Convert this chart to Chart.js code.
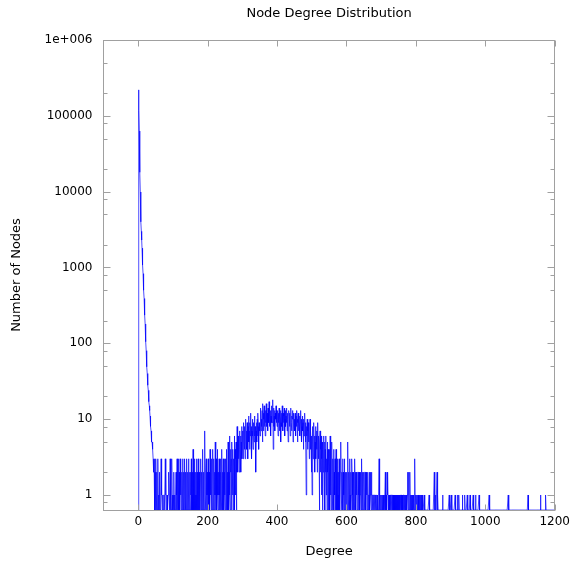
<!DOCTYPE html>
<html>
<head>
<meta charset="utf-8">
<title>Node Degree Distribution</title>
<script src="https://cdn.jsdelivr.net/npm/chart.js@4.4.1/dist/chart.umd.min.js"></script>
<style>
    html, body { margin: 0; padding: 0; background: #fff; }
    #wrap { width: 575px; height: 563px; }
</style>
</head>
<body>
<div id="wrap"><canvas id="chartGrau"></canvas></div>
<script>
/* Node degree distribution - counts per degree (index = degree) */

// degrees 0..49
const headCounts = [
    0, 220000, 118000, 63000, 34000, 18000, 9900, 5300, 4000, 3000,
    2300, 1800, 1400, 1080, 830, 640, 500, 390, 300, 235,
    180, 140, 105, 80, 62, 49, 40, 33, 28, 24,
    20, 17, 15, 13, 11, 9, 8, 7, 6, 5,
    5, 4, 4, 3, 3, 2, 2, 3, 0, 2
];

// degrees 50..299
const lowCounts = [
    0, 3, 1, 0, 2, 0, 1, 3, 0, 1,   0, 2, 1, 0, 0, 1, 3, 1, 1, 0,
    1, 1, 0, 1, 1, 1, 0, 1, 3, 1,   1, 0, 1, 1, 1, 0, 1, 1, 2, 1,
    0, 1, 3, 0, 1, 0, 0, 3, 1, 0,
    0, 1, 0, 2, 0, 1, 0, 0, 1, 2,   0, 1, 3, 0, 2, 1, 3, 0, 2, 1,
    0, 3, 1, 2, 0, 1, 2, 0, 3, 1,   0, 2, 0, 1, 3, 1, 0, 2, 0, 1,
    3, 0, 1, 2, 0, 3, 1, 0, 2, 1,
    0, 2, 1, 3, 0, 1, 2, 0, 4, 1,   0, 2, 3, 0, 1, 2, 0, 1, 3, 0,
    2, 1, 0, 3, 1, 0, 2, 1, 0, 2,   3, 0, 1, 2, 0, 1, 4, 0, 2, 1,
    0, 3, 7, 1, 0, 2, 3, 0, 1, 2,
    0, 1, 3, 0, 2, 1, 0, 4, 1, 2,   0, 3, 1, 0, 2, 4, 0, 1, 3, 0,
    2, 1, 5, 0, 1, 3, 0, 2, 4, 1,   0, 2, 1, 3, 0, 1, 2, 0, 3, 1,
    0, 4, 1, 2, 0, 3, 1, 0, 2, 3,
    1, 0, 3, 2, 0, 4, 1, 2, 0, 5,   3, 0, 2, 6, 1, 0, 4, 2, 3, 0,
    5, 2, 1, 4, 0, 3, 2, 6, 0, 4,   1, 3, 5, 0, 2, 8, 4, 2, 6, 3,
    5, 2, 7, 4, 3, 6, 2, 5, 8, 3
];

// degrees 300..549
const bumpCounts = [
    4, 7, 3, 6, 9, 5, 4, 8, 3, 6,   10, 5, 7, 4, 9, 6, 3, 8, 11, 5,
    7, 4, 9, 6, 12, 5, 8, 3, 7, 10,  6, 4, 9, 7, 5, 11, 6, 8, 4, 2,
    7, 9, 5, 10, 6, 12, 8, 4, 9, 7,
    9, 6, 11, 14, 7, 10, 8, 13, 5, 16,  12, 7, 10, 15, 8, 11, 6, 13, 9, 16,
    10, 8, 12, 7, 14, 11, 9, 17, 8, 12,  10, 13, 6, 11, 15, 9, 9, 12, 18, 4,
    14, 8, 11, 13, 7, 12, 10, 15, 9, 11,
    8, 13, 10, 6, 12, 9, 14, 7, 11, 10,  13, 5, 9, 12, 8, 15, 10, 7, 12, 9,
    11, 14, 6, 10, 13, 8, 11, 9, 14, 7,  12, 10, 5, 9, 13, 11, 8, 12, 6, 10,
    14, 9, 7, 11, 10, 13, 5, 9, 12, 8,
    10, 7, 12, 9, 6, 11, 8, 13, 10, 5,  9, 12, 7, 10, 8, 11, 6, 9, 13, 7,
    10, 5, 8, 11, 7, 9, 4, 10, 6, 8,   12, 7, 9, 5, 1, 8, 6, 10, 4, 7,
    9, 5, 8, 3, 6, 10, 4, 7, 5, 2,
    6, 1, 8, 5, 3, 7, 9, 4, 6, 2,   5, 8, 3, 6, 4, 7, 2, 9, 5, 3,
    6, 4, 0, 5, 7, 2, 4, 6, 1, 3,   5, 0, 4, 2, 6, 3, 1, 5, 0, 4,
    2, 6, 1, 3, 0, 5, 2, 4, 0, 3
];

// degrees 550..876
const fallCounts = [
    2, 4, 0, 6, 1, 3, 0, 2, 5, 1,   0, 3, 1, 4, 0, 2, 1, 3, 0, 2,
    4, 1, 0, 2, 3, 0, 1, 2, 0, 3,   1, 0, 2, 4, 5, 1, 0, 2, 1, 3,
    0, 2, 1, 0, 3, 2, 0, 1, 2, 0,
    1, 2, 0, 3, 5, 1, 0, 2, 1, 3,   0, 1, 2, 0, 1, 3, 2, 0, 1, 2,
    0, 2, 1, 0, 3, 1, 2, 0, 2, 1,   2, 0, 1, 2, 2, 0, 1, 2, 0, 1,
    2, 2, 0, 1, 3, 0, 2, 1, 0, 2,
    2, 1, 0, 2, 2, 1, 0, 2, 1, 2,   0, 1, 2, 0, 1, 1, 2, 0, 1, 2,
    1, 0, 2, 1, 1, 0, 1, 1, 0, 1,   1, 0, 1, 1, 0, 1, 0, 1, 1, 0,
    1, 0, 1, 1, 3, 0, 1, 0, 1, 1,
    0, 1, 1, 0, 1, 0, 1, 1, 0, 1,   0, 1, 2, 0, 1, 1, 0, 2, 1, 2,
    0, 1, 0, 1, 1, 0, 1, 0, 1, 1,   0, 1, 1, 0, 0, 1, 0, 1, 1, 0,
    1, 0, 0, 1, 1, 0, 1, 0, 0, 1,
    1, 0, 1, 1, 0, 1, 0, 1, 1, 0,   1, 1, 0, 1, 0, 1, 1, 0, 1, 0,
    1, 0, 1, 0, 0, 1, 2, 1, 0, 2,   1, 0, 1, 2, 0, 1, 0, 1, 0, 0,
    1, 0, 1, 0, 1, 0, 1, 3, 0, 0,
    1, 0, 1, 0, 0, 1, 0, 1, 0, 0,   1, 0, 0, 1, 0, 0, 1, 0, 1, 0,
    0, 0, 0, 0, 1, 0, 0, 0, 0, 0,   0, 0, 0, 0, 0, 0, 0, 0, 1, 0,
    0, 0, 0, 0, 0, 0, 0, 0, 0, 0,
    0, 0, 0, 2, 1, 0, 0, 1, 0, 0,   0, 2, 0, 1, 0, 0, 0, 0, 0, 0,
    0, 0, 0, 0, 0, 0, 0
];

// isolated degrees above 876 that have exactly one node
const tailDegrees = [877, 896, 902, 913, 920, 924, 934, 941, 948, 956, 965, 972, 982, 1011, 1066, 1123, 1159, 1174];

const xTicks      = [0, 200, 400, 600, 800, 1000, 1200];
const yTicks      = [1, 10, 100, 1000, 10000, 100000, 1000000];
const yTickLabels = ['1', '10', '100', '1000', '10000', '100000', '1e+006'];
const yMinorTicks = [0.8, 2, 5, 8, 20, 50, 80, 200, 500, 800, 2000, 5000, 8000,
                     20000, 50000, 80000, 200000, 500000];

const X_MIN = -100, X_MAX = 1200;
const Y_MIN = 0.634, Y_MAX = 1000000;

// zero counts go to the bottom edge, like log plots do
const counts = headCounts.concat(lowCounts, bumpCounts, fallCounts);
const pontos = [];
for (let d = 0; d <= X_MAX; d++) {
    const c = d < counts.length ? counts[d] : (tailDegrees.includes(d) ? 1 : 0);
    pontos.push({ x: d, y: c > 0 ? c : Y_MIN });
}

const AXIS_GRAY = '#a0a0a0';

// gnuplot-like frame with inward ticks on all four sides
const molduraEixos = {
    id: 'molduraEixos',
    afterDatasetsDraw(chart) {
        const { ctx, chartArea: a, scales } = chart;
        const esq  = Math.floor(a.left) + 0.5;
        const dir  = Math.floor(a.right) + 0.5;
        const topo = Math.floor(a.top) + 0.5;
        const base = Math.floor(a.bottom) + 0.5;

        ctx.save();
        ctx.strokeStyle = AXIS_GRAY;
        ctx.lineWidth = 1;
        ctx.strokeRect(esq, topo, dir - esq, base - topo);

        ctx.beginPath();
        xTicks.forEach(v => {
            const px = Math.round(scales.x.getPixelForValue(v)) + 0.5;
            ctx.moveTo(px, base); ctx.lineTo(px, base - 6);
            ctx.moveTo(px, topo); ctx.lineTo(px, topo + 6);
        });
        const marcaY = (v, len) => {
            const py = Math.round(scales.y.getPixelForValue(v)) + 0.5;
            ctx.moveTo(esq, py); ctx.lineTo(esq + len, py);
            ctx.moveTo(dir, py); ctx.lineTo(dir - len, py);
        };
        yTicks.forEach(v => marcaY(v, 7));
        yMinorTicks.forEach(v => marcaY(v, 4));
        ctx.stroke();
        ctx.restore();
    }
};

Chart.defaults.font.family = "'DejaVu Sans', sans-serif";
Chart.defaults.color = '#000';

new Chart(document.getElementById('chartGrau'), {
    type: 'line',
    data: {
        datasets: [{
            data: pontos,
            borderColor: '#0000ff',
            borderWidth: 0.7,
            pointRadius: 0,
            tension: 0,
            fill: false,
        }]
    },
    options: {
        responsive: true,
        maintainAspectRatio: false,
        animation: false,
        parsing: false,
        layout: { padding: { left: 0, right: 19, top: 0, bottom: 0 } },
        plugins: {
            legend: { display: false },
            tooltip: { enabled: false },
            title: {
                display: true,
                text: 'Node Degree Distribution',
                fullSize: false,
                font: { size: 13, weight: 'normal' },
                padding: { top: 6, bottom: 18.4 }
            }
        },
        scales: {
            x: {
                type: 'linear',
                min: X_MIN,
                max: X_MAX,
                bounds: 'data',
                grid: { display: false, drawTicks: false },
                border: { display: false },
                afterBuildTicks: s => { s.ticks = xTicks.map(v => ({ value: v })); },
                afterFit: s => { s.height = 53; },
                ticks: {
                    autoSkip: false,
                    maxRotation: 0,
                    padding: 5,
                    font: { size: 12 },
                    callback: v => String(v)
                },
                title: { display: true, text: 'Degree', font: { size: 13 }, padding: { top: 0, bottom: 4 } }
            },
            y: {
                type: 'logarithmic',
                min: Y_MIN,
                max: Y_MAX,
                bounds: 'data',
                grid: { display: false, drawTicks: false },
                border: { display: false },
                afterBuildTicks: s => { s.ticks = yTicks.map(v => ({ value: v })); },
                afterFit: s => { s.width = 103.5; },
                ticks: {
                    padding: 11,
                    font: { size: 12 },
                    callback: (v, i) => yTickLabels[i]
                },
                title: { display: true, text: 'Number of Nodes', font: { size: 13 }, padding: { top: 9, bottom: 0 } }
            }
        }
    },
    plugins: [molduraEixos]
});
</script>
</body>
</html>
